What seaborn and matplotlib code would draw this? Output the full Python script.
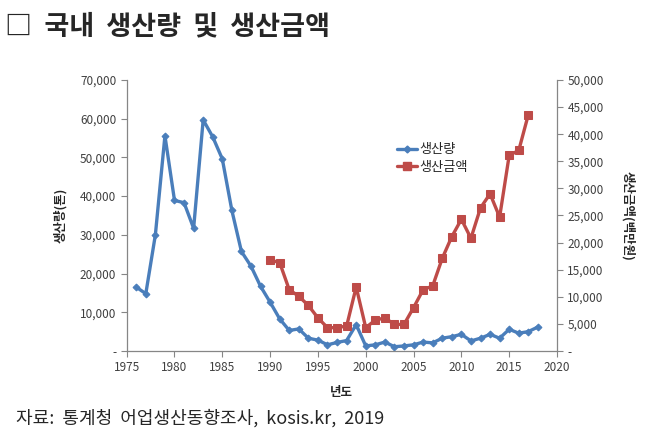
import numpy as np
import pandas as pd
import matplotlib
matplotlib.use("Agg")
import matplotlib.pyplot as plt
import seaborn as sns
from matplotlib.ticker import FuncFormatter, MultipleLocator
from matplotlib.lines import Line2D

# 생산량 (톤), 1976-2018
years_qty = list(range(1976, 2019))
qty = [16500, 14800, 30000, 55600, 38900, 38300, 31700, 59700, 55300, 49600,
       36300, 25700, 21900, 16700, 12600, 8300, 5300, 5700, 3300, 2800,
       1600, 2200, 2700, 6800, 1300, 1600, 2300, 1100, 1300, 1600,
       2300, 2100, 3300, 3700, 4300, 2600, 3300, 4300, 3300, 5600,
       4600, 5000, 6200]

# 생산금액 (백만원), 1990-2017
years_amt = list(range(1990, 2018))
amt = [16800, 16300, 11300, 10100, 8400, 6100, 4300, 4300, 4600, 11800,
       4300, 5700, 6100, 4900, 4900, 8000, 11300, 12000, 17100, 21100,
       24300, 20800, 26400, 29000, 24700, 36100, 37000, 43600]

df_qty = pd.DataFrame({"year": years_qty, "value": qty})
df_amt = pd.DataFrame({"year": years_amt, "value": amt})

sns.set_theme(style="white")
plt.rcParams['font.family'] = ['Noto Sans CJK KR', 'DejaVu Sans']

blue = "#4A7EBB"
red = "#BE4B48"
grey = "#868686"

fig = plt.figure(figsize=(6.47, 4.44), dpi=100)
ax = fig.add_axes([0.1958, 0.2095, 0.6651, 0.6103])
ax2 = ax.twinx()

sns.lineplot(data=df_qty, x="year", y="value", ax=ax, color=blue, lw=2.4,
             marker="D", markersize=3.5, markeredgecolor=blue)
sns.lineplot(data=df_amt, x="year", y="value", ax=ax2, color=red, lw=2.4,
             marker="s", markersize=5.5, markeredgecolor=red)

def fmt(v, pos):
    return "-" if v == 0 else f"{int(v):,}"

ax.set_xlim(1975, 2020)
ax.set_ylim(0, 70000)
ax2.set_ylim(0, 50000)
ax.xaxis.set_major_locator(MultipleLocator(5))
ax.yaxis.set_major_locator(MultipleLocator(10000))
ax2.yaxis.set_major_locator(MultipleLocator(5000))
ax.yaxis.set_major_formatter(FuncFormatter(fmt))
ax2.yaxis.set_major_formatter(FuncFormatter(fmt))

for a in (ax, ax2):
    a.spines['top'].set_visible(False)
    for s in ('left', 'right', 'bottom'):
        a.spines[s].set_color(grey)
        a.spines[s].set_linewidth(0.9)
    a.tick_params(axis='both', which='major', length=4, width=0.8, color=grey,
                  labelsize=8.5, labelcolor="#404040", direction='out')
ax.tick_params(left=True, bottom=True)
ax2.tick_params(right=True)
ax.spines['right'].set_visible(False)
ax2.spines['left'].set_visible(False)
ax2.spines['bottom'].set_visible(False)

ax.set_xlabel("년도", fontsize=9, fontweight="bold", labelpad=8)
ax.set_ylabel("생산량(톤)", fontsize=9, fontweight="bold", labelpad=9)
ax2.set_ylabel("생산금액(백만원)", fontsize=9, fontweight="bold",
               rotation=270, labelpad=22)

handles = [Line2D([], [], color=blue, lw=2.4, marker="D", markersize=3.5),
           Line2D([], [], color=red, lw=2.4, marker="s", markersize=5.5)]
ax2.legend(handles, ["생산량", "생산금액"], loc="upper left",
           bbox_to_anchor=(0.6, 0.81), frameon=False, fontsize=9.5,
           handlelength=1.5, handletextpad=0.2, labelspacing=0.35)

fig.text(0.008, 0.94, "□  국내  생산량  및  생산금액", fontsize=19.5,
         fontweight="bold", va="center", ha="left")
fig.text(0.025, 0.058, "자료:  통계청  어업생산동향조사,  kosis.kr,  2019",
         fontsize=13, va="center", ha="left")

fig.savefig("out.png", dpi=100)
